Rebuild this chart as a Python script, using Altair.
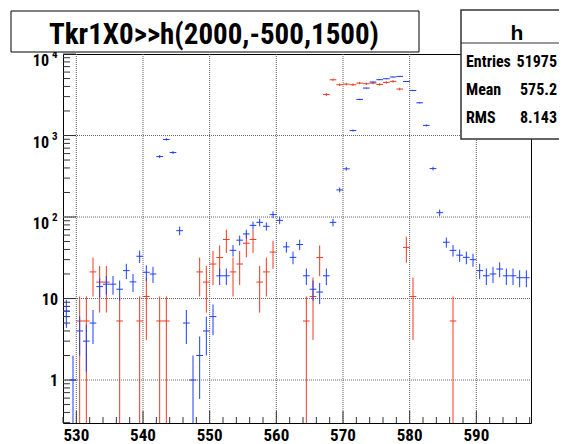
import altair as alt
import pandas as pd
import numpy as np

# ---------------- data ----------------
X_MIN, X_MAX = 528.0, 598.2
Y_MIN, Y_MAX = 0.297, 10000.0

# blue histogram "h": unweighted counts, one per 1-unit bin starting at 528.5
blue_first_center = 528.5
blue_counts = [7, 1, 4, 3, 5, 14, 15, 15, 13, 22,
               16, 33, 21, 20, 552, 894, 618, 68, 5, 1,
               2, 4, 6, 19, 19, 39, 52, 62, 79, 86,
               77, 107, 91, 43, 32, 46, 19, 13, 12, 19,
               86, 215, 390, 1150, 2770, 3820, 4530, 4840, 4970, 5220,
               5310, 4600, 3570, 2520, 1330, 393, 113, 49, 39, 34,
               32, 30, 22, 19, 20, 23, 19, 19, 18, 18]

# red overlay: bin centers, raw entries and per-entry weight
red_centers = [530.5, 531.5, 532.5, 533.5, 534.5, 536.5, 539.5, 540.5, 542.5, 543.5,
               548.5, 549.5, 550.5, 551.5, 552.5, 553.5, 554.5, 555.5, 556.5, 557.5,
               558.5, 559.5, 564.5, 565.5, 566.5, 567.5, 568.5, 569.5, 570.5, 571.5,
               572.5, 573.5, 574.5, 575.5, 576.5, 577.5, 578.5, 579.5, 580.5, 586.5]
red_entries = [1, 1, 4, 3, 3, 1, 1, 2, 1, 1,
               4, 3, 5, 6, 10, 4, 5, 9, 10, 3,
               4, 7, 1, 2, 6, 602, 911, 792, 807, 792,
               830, 814, 830, 799, 846, 871, 701, 8, 2, 1]
red_weight = 5.3

x_major = [530, 540, 550, 560, 570, 580, 590]
x_labels = ["530", "540", "550", "560", "570", "580", "590"]
x_minor = [v for v in range(528, 599, 2) if v % 10 != 0]
y_major = [1, 10, 100, 1000]
y_minor = [k * 10.0 ** e for e in range(-1, 4) for k in range(2, 10)
           if Y_MIN <= k * 10.0 ** e < Y_MAX]
y_plain_vals, y_plain_labels = [1, 10], ["1", "10"]
y_pow_vals, y_pow_exps = [100, 1000, 10000], ["2", "3", "4"]

title_text = "Tkr1X0>>h(2000,-500,1500)"
stats_name = "h"
stats_rows = ["Entries", "Mean", "RMS"]
stats_vals = ["51975", "575.2", "8.143"]

# ---------------- build tables ----------------
W, H = 468, 369
BLUE = "#1f3ff5"
RED = "#f03a1e"
FONT_C = "Roboto Condensed, Liberation Sans Narrow, Liberation Sans, Arial, sans-serif"
FONT = "Liberation Sans, Arial, sans-serif"

bx = [blue_first_center + i for i in range(len(blue_counts))]
bv = np.array(blue_counts, dtype=float)
be = np.sqrt(bv)
blue = pd.DataFrame({"x": bx, "y": bv,
                     "xl": np.array(bx) - 0.5, "xr": np.array(bx) + 0.5,
                     "lo": np.maximum(bv - be, 0.1), "hi": bv + be})
rn = np.array(red_entries, dtype=float)
rv = rn * red_weight
re_ = np.sqrt(rn) * red_weight
red = pd.DataFrame({"x": red_centers, "y": rv,
                    "xl": np.array(red_centers) - 0.5, "xr": np.array(red_centers) + 0.5,
                    "lo": np.maximum(rv - re_, 0.1), "hi": rv + re_})

xs = alt.Scale(domain=[X_MIN, X_MAX], zero=False, nice=False)
ys = alt.Scale(type="log", domain=[Y_MIN, Y_MAX], nice=False)


def X(f):
    return alt.X(f, type="quantitative", scale=xs, axis=None)


def Y(f):
    return alt.Y(f, type="quantitative", scale=ys, axis=None)


one = pd.DataFrame({"a": [0]})
layers = []

# grid lines (dotted)
layers.append(alt.Chart(pd.DataFrame({"x": x_major})).mark_rule(
    color="#666", strokeWidth=1, strokeDash=[1, 1]).encode(x=X("x"), y=alt.value(0), y2=alt.value(H)))
layers.append(alt.Chart(pd.DataFrame({"y": y_major})).mark_rule(
    color="#666", strokeWidth=1, strokeDash=[1, 1]).encode(y=Y("y"), x=alt.value(0), x2=alt.value(W)))

# ticks (inward)
layers.append(alt.Chart(pd.DataFrame({"x": x_major})).mark_rule(color="#333").encode(
    x=X("x"), y=alt.value(H - 12), y2=alt.value(H)))
layers.append(alt.Chart(pd.DataFrame({"x": x_minor})).mark_rule(color="#333").encode(
    x=X("x"), y=alt.value(H - 6), y2=alt.value(H)))
layers.append(alt.Chart(pd.DataFrame({"y": y_major + [Y_MAX]})).mark_rule(color="#333").encode(
    y=Y("y"), x=alt.value(0), x2=alt.value(13)))
layers.append(alt.Chart(pd.DataFrame({"y": y_minor})).mark_rule(color="#333").encode(
    y=Y("y"), x=alt.value(0), x2=alt.value(7)))

# histograms
for df, col in ((red, RED), (blue, BLUE)):
    base = alt.Chart(df)
    layers.append(base.mark_rule(color=col, strokeWidth=1, clip=True).encode(
        x=X("xl"), x2="xr", y=Y("y")))
    layers.append(base.mark_rule(color=col, strokeWidth=1, clip=True).encode(
        x=X("x"), y=Y("lo"), y2="hi"))

# axis labels
layers.append(alt.Chart(pd.DataFrame({"x": x_major, "t": x_labels})).mark_text(
    font=FONT_C, fontSize=17, fontWeight="bold", align="center", baseline="alphabetic").encode(
    x=X("x"), y=alt.value(H + 18), text="t:N"))
layers.append(alt.Chart(pd.DataFrame({"y": y_plain_vals, "t": y_plain_labels})).mark_text(
    font=FONT_C, fontSize=16, fontWeight="bold", align="right", baseline="alphabetic", dx=-5, dy=6).encode(
    x=alt.value(0), y=Y("y"), text="t:N"))
layers.append(alt.Chart(pd.DataFrame({"y": y_pow_vals})).mark_text(
    font=FONT_C, fontSize=16, fontWeight="bold", align="right", baseline="alphabetic", dx=-14, dy=12).encode(
    x=alt.value(0), y=Y("y"), text=alt.value("10")))
layers.append(alt.Chart(pd.DataFrame({"y": y_pow_vals, "t": y_pow_exps})).mark_text(
    font=FONT_C, fontSize=11, fontWeight="bold", align="left", baseline="alphabetic", dx=-11, dy=4).encode(
    x=alt.value(0), y=Y("y"), text="t:N"))

# title box
layers.append(alt.Chart(one).mark_rect(fill="white", stroke="#000", strokeWidth=1).encode(
    x=alt.value(-52), x2=alt.value(356), y=alt.value(-43), y2=alt.value(-2)))
layers.append(alt.Chart(one).mark_text(
    font=FONT_C, fontSize=29, fontWeight="bold", align="center", baseline="alphabetic").encode(
    x=alt.value(151), y=alt.value(-10), text=alt.value(title_text)))

# stats box
layers.append(alt.Chart(one).mark_rect(fill="white", stroke="#333", strokeWidth=1.5).encode(
    x=alt.value(398), x2=alt.value(525), y=alt.value(-44), y2=alt.value(85)))
layers.append(alt.Chart(one).mark_rule(color="#333", strokeWidth=1).encode(
    x=alt.value(398), x2=alt.value(525), y=alt.value(-11)))
layers.append(alt.Chart(one).mark_text(
    font=FONT, fontSize=21, fontWeight="bold", align="center", baseline="alphabetic").encode(
    x=alt.value(454), y=alt.value(-14), text=alt.value(stats_name)))
row_base = [12.5, 40.5, 68.5]
layers.append(alt.Chart(pd.DataFrame({"t": stats_rows, "b": row_base})).mark_text(
    font=FONT_C, fontSize=16, fontWeight="bold", align="left", baseline="alphabetic").encode(
    x=alt.value(403), y=alt.Y("b:Q", scale=None), text="t:N"))
layers.append(alt.Chart(pd.DataFrame({"t": stats_vals, "b": row_base})).mark_text(
    font=FONT_C, fontSize=16, fontWeight="bold", align="right", baseline="alphabetic").encode(
    x=alt.value(494), y=alt.Y("b:Q", scale=None), text="t:N"))

chart = alt.layer(*layers).resolve_scale(y="independent").properties(
    width=W, height=H,
    autosize=alt.AutoSizeParams(type="none"),
    padding={"left": 55, "top": 46, "right": 28, "bottom": 21},
    background="white",
).configure_view(stroke="#000", strokeWidth=1)

chart.save("out.html", embed_options={"renderer": "svg", "actions": False})
